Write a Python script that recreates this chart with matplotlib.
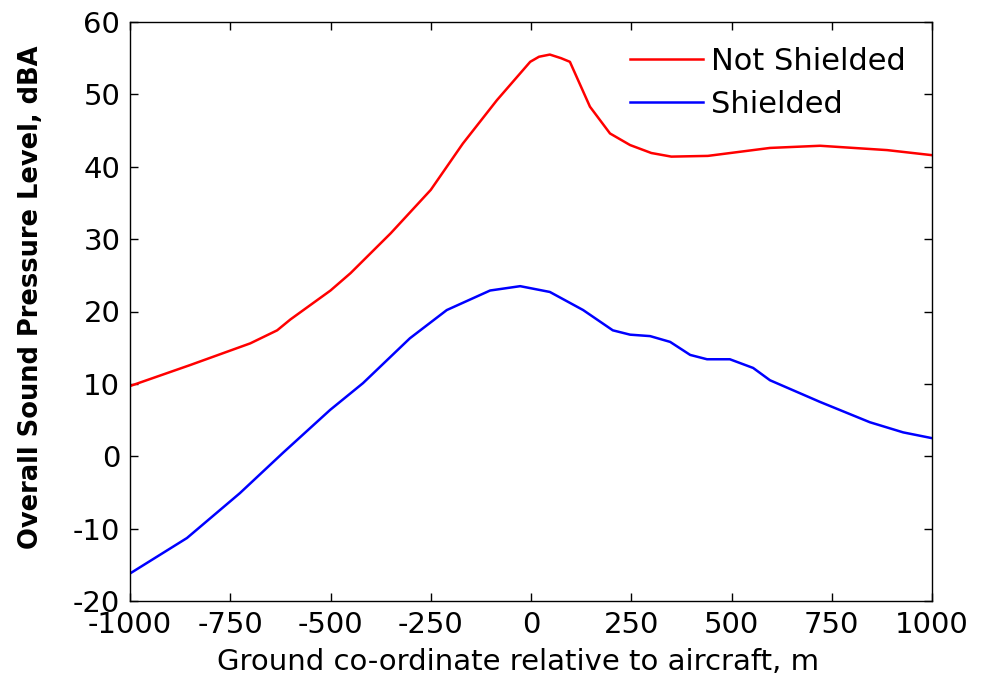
import matplotlib.pyplot as plt

plt.rcParams['font.family'] = ['DejaVu Sans']
plt.rcParams['axes.unicode_minus'] = False

# Not shielded (red)
x_red = [-1000, -850, -700, -633, -600, -500, -450, -350, -250, -170, -85, -2, 20, 47, 75, 97,
         147, 197, 247, 300, 350, 441, 596, 721, 888, 1000]
y_red = [9.7, 12.6, 15.6, 17.4, 18.9, 22.9, 25.3, 30.8, 36.8, 43.2, 49.2, 54.5, 55.2, 55.5, 55.0, 54.5,
         48.3, 44.6, 43.0, 41.9, 41.4, 41.5, 42.6, 42.9, 42.3, 41.6]

# Shielded (blue)
x_blue = [-1000, -858, -726, -618, -501, -419, -302, -210, -102, -27, 47, 130, 204, 247, 297,
          347, 397, 439, 496, 554, 596, 721, 845, 928, 1000]
y_blue = [-16.2, -11.3, -5.1, 0.5, 6.4, 10.1, 16.3, 20.2, 22.9, 23.5, 22.7, 20.2, 17.4, 16.8, 16.6,
          15.8, 14.0, 13.4, 13.4, 12.2, 10.5, 7.5, 4.7, 3.3, 2.5]

fig = plt.figure(figsize=(9.88, 6.77), dpi=100)
ax = fig.add_axes([130 / 988, 76 / 677, 802 / 988, 579 / 677])

ax.plot(x_red, y_red, color='#ff0000', lw=1.8, label='Not Shielded')
ax.plot(x_blue, y_blue, color='#0000ff', lw=1.8, label='Shielded')

ax.set_xlim(-1000, 1000)
ax.set_ylim(-20, 60)
ax.set_xticks(range(-1000, 1001, 250))
ax.set_yticks(range(-20, 61, 10))
ax.tick_params(direction='in', length=6, width=1, labelsize=21, top=True, right=True, pad=7)
for s in ax.spines.values():
    s.set_linewidth(1)

ax.set_xlabel('Ground co-ordinate relative to aircraft, m', fontsize=21)
ax.xaxis.set_label_coords(0.484, -0.081)
ax.set_ylabel('Overall Sound Pressure Level, dBA', fontsize=18.5, fontweight='bold')
ax.yaxis.set_label_coords(-0.107, 0.525)

ax.legend(loc='upper right', bbox_to_anchor=(0.983, 0.978), frameon=False, fontsize=22,
          handlelength=2.4, handletextpad=0.26, labelspacing=0.45, borderaxespad=0)

plt.savefig('out.png', dpi=100)
